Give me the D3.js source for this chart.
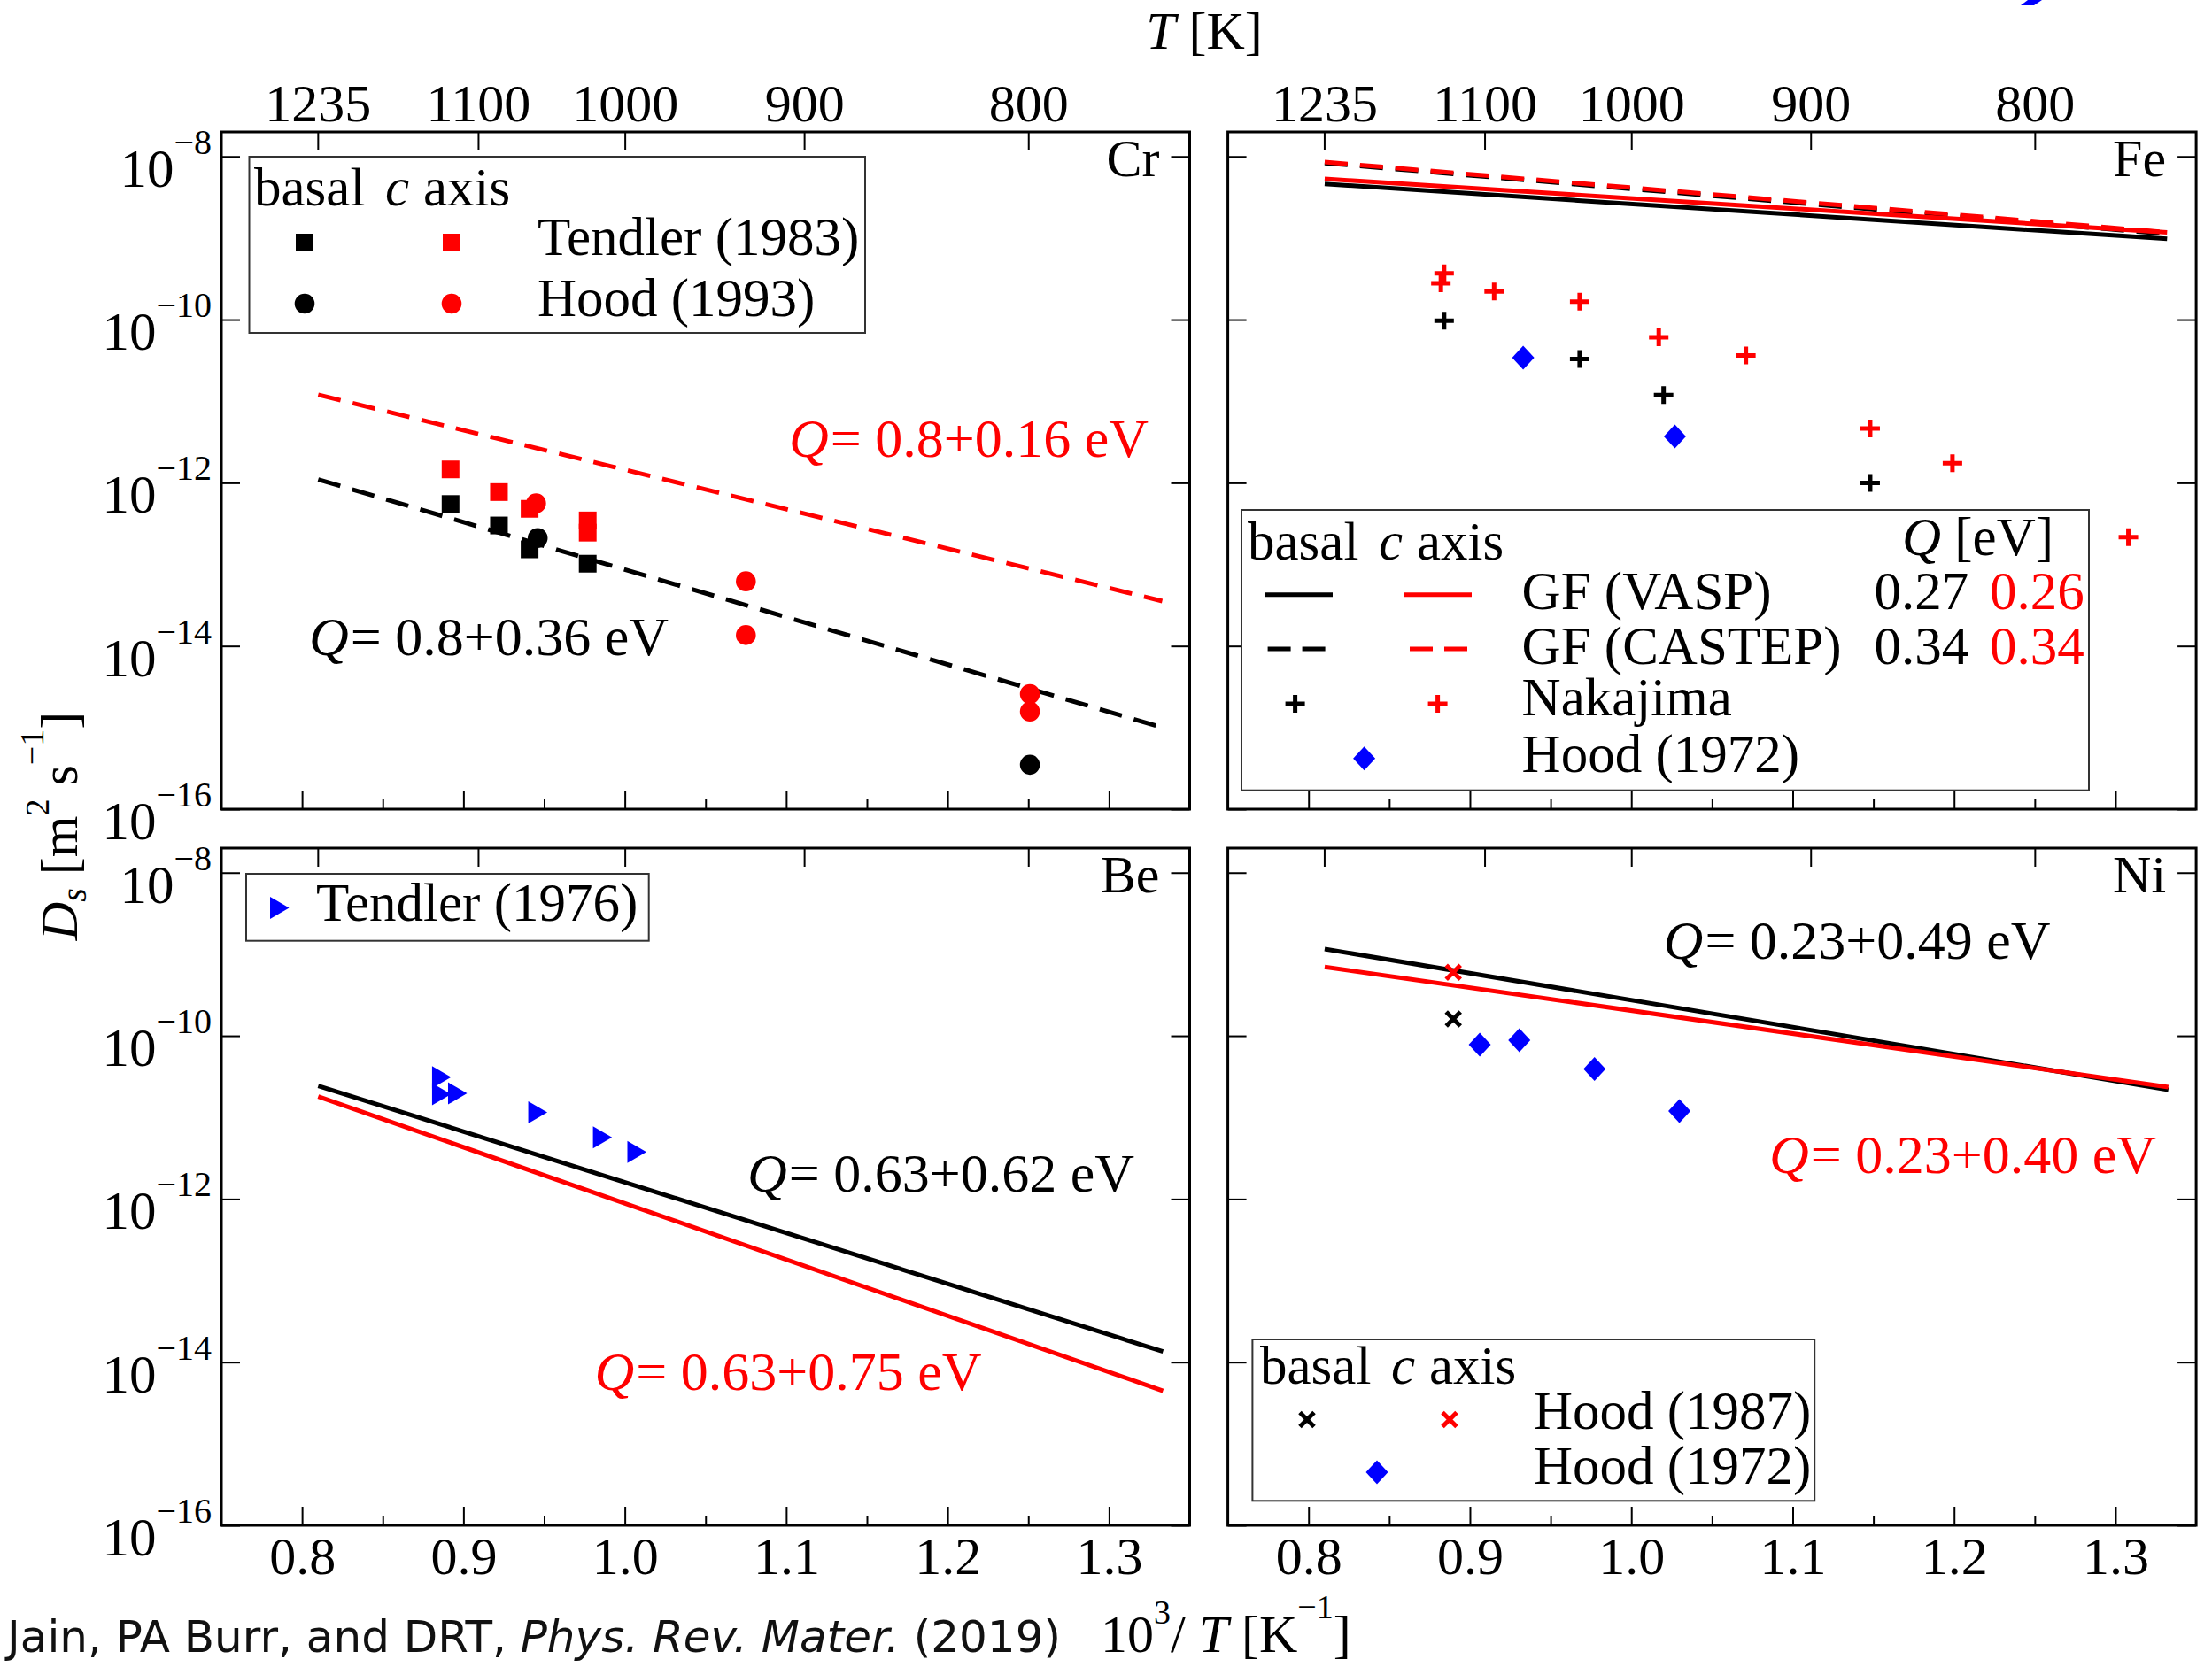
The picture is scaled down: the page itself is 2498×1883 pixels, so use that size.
<!DOCTYPE html>
<html>
<meta charset="utf-8">
<style>
  body { margin:0; padding:0; background:#fff; }
  svg { display:block; font-family:"Liberation Serif", "Times New Roman", serif; }
  .tick line { stroke:#000; stroke-width:2px; }
  .tick text { font-size:60px; fill:#000; font-family:"Liberation Serif", serif; }
  .domain { display:none; }
  .frame { fill:none; stroke:#000; stroke-width:3px; }
  .legbox { fill:#fff; stroke:#333; stroke-width:2px; }
</style>
<body>
<svg id="chart" width="2498" height="1883"></svg>
<script src="https://cdn.jsdelivr.net/npm/d3@7"></script>
<script>
// axis ticks
var xTicks = [0.8, 0.9, 1.0, 1.1, 1.2, 1.3];
var xMinorTicks = [0.85, 0.95, 1.05, 1.15, 1.25];
var tempTicks = [1235, 1100, 1000, 900, 800];
var yTicks = [1e-8, 1e-10, 1e-12, 1e-14, 1e-16];
var yTickExp = ["\u22128", "\u221210", "\u221212", "\u221214", "\u221216"];

// Cr  [10^3/T, D]
var crTendlerBasal = [[0.892, 5.5e-13], [0.922, 3.0e-13], [0.941, 1.53e-13], [0.977, 1.02e-13]];
var crTendlerC = [[0.892, 1.46e-12], [0.922, 7.7e-13], [0.941, 4.8e-13], [0.977, 3.46e-13], [0.977, 2.45e-13]];
var crHoodBasal = [[0.946, 2.1e-13], [1.251, 3.5e-16]];
var crHoodC = [[0.945, 5.6e-13], [1.075, 6.2e-14], [1.075, 1.36e-14], [1.251, 2.57e-15], [1.251, 1.57e-15]];
var crFitBasal = [[0.81, 1.1e-12], [1.333, 1.0e-15]];
var crFitC = [[0.81, 1.2e-11], [1.333, 3.55e-14]];

// Fe
var feVaspBasal = [[0.81, 4.61e-9], [1.332, 9.77e-10]];
var feVaspC = [[0.81, 5.31e-9], [1.332, 1.175e-9]];
var feCastepBasal = [[0.81, 8.3e-9], [1.332, 1.12e-9]];
var feCastepC = [[0.81, 8.53e-9], [1.332, 1.175e-9]];
var feNakajimaBasal = [[0.884, 9.7e-11], [0.968, 3.3e-11], [1.020, 1.19e-11], [1.148, 9.95e-13]];
var feNakajimaC = [[0.884, 3.7e-10], [0.882, 2.79e-10], [0.915, 2.22e-10], [0.968, 1.66e-10], [1.017, 6.07e-11],
                   [1.071, 3.65e-11], [1.148, 4.63e-12], [1.199, 1.74e-12], [1.308, 2.16e-13]];
var feHood = [[0.933, 3.42e-11], [1.027, 3.69e-12]];

// Be
var beTendler = [[0.8855, 3.11e-11], [0.8855, 1.92e-11], [0.8954, 1.97e-11], [0.9451, 1.15e-11], [0.9852, 5.71e-12], [1.0065, 3.76e-12]];
var beFitBasal = [[0.81, 2.44e-11], [1.3335, 1.35e-14]];
var beFitC = [[0.81, 1.8e-11], [1.3335, 4.45e-15]];

// Ni
var niFitBasal = [[0.81, 1.16e-9], [1.3328, 2.18e-11]];
var niFitC = [[0.81, 7.0e-10], [1.3328, 2.35e-11]];
var niHood87Basal = [[0.8897, 1.61e-10]];
var niHood87C = [[0.8897, 6.0e-10]];
var niHood72 = [[0.9061, 7.8e-11], [0.9306, 8.85e-11], [0.9772, 3.92e-11], [1.0298, 1.2e-11]];

var RED = "#ff0000", BLUE = "#0000ff", BLACK = "#000000";

var svg = d3.select("#chart");
var pw = 1093.5, ph = 765;

var symSquare = "M-10,-10H10V10H-10Z";
var symCircle = d3.symbol(d3.symbolCircle, 400)();
var symDiamond = "M0,-13.5L12.5,0L0,13.5L-12.5,0Z";
var symTriangle = "M-9,-12.5L12.5,0L-9,12.5Z";
var symPlus = "M-11,0H11M0,-10V10";
var symCross = "M-8,-8L8,8M-8,8L8,-8";

function makePanel(x0, y0, opts) {
	var g = svg.append("g").attr("transform", "translate(" + x0 + "," + y0 + ")");
	var x = d3.scaleLinear().domain([0.75, 1.35]).range([0, pw]);
	var y = d3.scaleLog().domain([1e-16, 2e-8]).range([ph, 0]);

	g.append("g").attr("transform", "translate(0," + ph + ")")
		.call(d3.axisBottom(x).tickValues(xTicks).tickSize(-21).tickPadding(12)
			.tickFormat(opts.bottomLabels ? d3.format(".1f") : ""));
	g.append("g").attr("transform", "translate(0," + ph + ")")
		.call(d3.axisBottom(x).tickValues(xMinorTicks).tickSize(-11).tickFormat(""));
	g.append("g")
		.call(d3.axisTop(x).tickValues(tempTicks.map(function(t) { return 1000 / t; }))
			.tickSize(-21).tickPadding(12)
			.tickFormat(function(d, i) { return opts.topLabels ? tempTicks[i] : ""; }));
	g.append("g").call(d3.axisLeft(y).tickValues(yTicks).tickSize(-21).tickFormat(""));
	g.append("g").attr("transform", "translate(" + pw + ",0)")
		.call(d3.axisRight(y).tickValues(yTicks).tickSize(-21).tickFormat(""));

	if (opts.leftLabels) {
		g.selectAll(".ylab").data(yTicks).enter().append("text")
			.attr("class", "ylab")
			.attr("x", -11)
			.attr("y", function(d) { return y(d) + 34; })
			.attr("text-anchor", "end")
			.style("font-size", "61px")
			.each(function(d, i) {
				var t = d3.select(this);
				t.append("tspan").text("10");
				t.append("tspan").attr("dy", -37).style("font-size", "40px").text(yTickExp[i]);
			});
	}

	g.append("rect").attr("class", "frame").attr("width", pw).attr("height", ph);

	g.append("text").attr("x", pw - 34).attr("y", 50).attr("text-anchor", "end")
		.style("font-size", "60px").text(opts.name);

	return {g: g, x: x, y: y};
}

function drawLine(p, pts, color, dashed) {
	var line = d3.line().x(function(d) { return p.x(d[0]); }).y(function(d) { return p.y(d[1]); });
	p.g.append("path").datum(pts).attr("d", line)
		.attr("fill", "none").attr("stroke", color).attr("stroke-width", 5)
		.attr("stroke-dasharray", dashed ? "26,14" : null);
}

function drawMarks(p, pts, shape, color, stroked) {
	p.g.selectAll(null).data(pts).enter().append("path")
		.attr("d", shape)
		.attr("transform", function(d) { return "translate(" + p.x(d[0]) + "," + p.y(d[1]) + ")"; })
		.attr("fill", stroked ? "none" : color)
		.attr("stroke", stroked ? color : null)
		.attr("stroke-width", stroked ? 5 : null);
}

function legMark(g, cx, cy, shape, color, stroked) {
	g.append("path").attr("d", shape).attr("transform", "translate(" + cx + "," + cy + ")")
		.attr("fill", stroked ? "none" : color)
		.attr("stroke", stroked ? color : null)
		.attr("stroke-width", stroked ? 5 : null);
}

function label(g, x, y, txt, color) {
	return g.append("text").attr("x", x).attr("y", y).attr("fill", color || BLACK)
		.style("font-size", "61px").text(txt);
}

// italic Q and the rest as two separate texts
function qLabel(g, x, y, txt, color) {
	var q = g.append("text").attr("x", x).attr("y", y).attr("fill", color)
		.style("font-size", "62px").style("font-style", "italic").text("Q");
	var w = q.node().getComputedTextLength();
	g.append("text").attr("x", x + w + 2).attr("y", y).attr("fill", color)
		.style("font-size", "62px").text("= " + txt);
}

function headerRow(g, x, y) {
	var t = g.append("text").attr("x", x).attr("y", y).style("font-size", "61px");
	t.append("tspan").text("basal");
	t.append("tspan").attr("x", x + 148).style("font-style", "italic").text("c");
	t.append("tspan").attr("x", x + 191).text("axis");
}

// ---------- Cr ----------
var cr = makePanel(250, 149, {name: "Cr", topLabels: true, leftLabels: true});
drawLine(cr, crFitC, RED, true);
drawLine(cr, crFitBasal, BLACK, true);
drawMarks(cr, crTendlerBasal, symSquare, BLACK);
drawMarks(cr, crTendlerC, symSquare, RED);
drawMarks(cr, crHoodBasal, symCircle, BLACK);
drawMarks(cr, crHoodC, symCircle, RED);
qLabel(cr.g, 641, 367, "0.8+0.16 eV", RED);
qLabel(cr.g, 99, 591, "0.8+0.36 eV", BLACK);
cr.g.append("rect").attr("class", "legbox").attr("x", 31.5).attr("y", 28).attr("width", 695.5).attr("height", 199);
headerRow(cr.g, 37, 83);
legMark(cr.g, 94, 125, symSquare, BLACK);
legMark(cr.g, 260, 125, symSquare, RED);
label(cr.g, 357, 139, "Tendler (1983)");
legMark(cr.g, 94, 194, symCircle, BLACK);
legMark(cr.g, 260, 194, symCircle, RED);
label(cr.g, 357, 208, "Hood (1993)");

// ---------- Fe ----------
var fe = makePanel(1386.6, 149, {name: "Fe", topLabels: true});
drawLine(fe, feCastepBasal, BLACK, true);
drawLine(fe, feCastepC, RED, true);
drawLine(fe, feVaspBasal, BLACK, false);
drawLine(fe, feVaspC, RED, false);
drawMarks(fe, feNakajimaBasal, symPlus, BLACK, true);
drawMarks(fe, feNakajimaC, symPlus, RED, true);
drawMarks(fe, feHood, symDiamond, BLUE);
fe.g.append("rect").attr("class", "legbox").attr("x", 15.4).attr("y", 427).attr("width", 957).attr("height", 316.7);
headerRow(fe.g, 22.4, 482.7);
var qh = fe.g.append("text").attr("x", 761.4).attr("y", 478).style("font-size", "61px");
qh.append("tspan").style("font-style", "italic").text("Q");
qh.append("tspan").text(" [eV]");
fe.g.append("line").attr("x1", 41.4).attr("x2", 118.4).attr("y1", 522.7).attr("y2", 522.7).attr("stroke", BLACK).attr("stroke-width", 5);
fe.g.append("line").attr("x1", 198.4).attr("x2", 275.4).attr("y1", 522.7).attr("y2", 522.7).attr("stroke", RED).attr("stroke-width", 5);
fe.g.append("line").attr("x1", 45).attr("x2", 110).attr("y1", 584).attr("y2", 584).attr("stroke", BLACK).attr("stroke-width", 5).attr("stroke-dasharray", "26,13");
fe.g.append("line").attr("x1", 205.4).attr("x2", 270.4).attr("y1", 584).attr("y2", 584).attr("stroke", RED).attr("stroke-width", 5).attr("stroke-dasharray", "26,13");
legMark(fe.g, 76, 646, symPlus, BLACK, true);
legMark(fe.g, 237, 646, symPlus, RED, true);
legMark(fe.g, 154, 707.7, symDiamond, BLUE);
label(fe.g, 332, 539, "GF (VASP)");
label(fe.g, 332, 601, "GF (CASTEP)");
label(fe.g, 332, 659, "Nakajima");
label(fe.g, 332, 723, "Hood (1972)");
label(fe.g, 730, 539, "0.27");
label(fe.g, 860.4, 539, "0.26", RED);
label(fe.g, 730, 601, "0.34");
label(fe.g, 860.4, 601, "0.34", RED);

// ---------- Be ----------
var be = makePanel(250, 958, {name: "Be", bottomLabels: true, leftLabels: true});
drawLine(be, beFitC, RED, false);
drawLine(be, beFitBasal, BLACK, false);
drawMarks(be, beTendler, symTriangle, BLUE);
qLabel(be.g, 594, 388, "0.63+0.62 eV", BLACK);
qLabel(be.g, 421.5, 612, "0.63+0.75 eV", RED);
be.g.append("rect").attr("class", "legbox").attr("x", 28).attr("y", 29).attr("width", 454.7).attr("height", 75.7);
legMark(be.g, 64, 67.4, symTriangle, BLUE);
label(be.g, 107, 81.7, "Tendler (1976)");

// ---------- Ni ----------
var ni = makePanel(1386.6, 958, {name: "Ni", bottomLabels: true});
drawLine(ni, niFitBasal, BLACK, false);
drawLine(ni, niFitC, RED, false);
drawMarks(ni, niHood87Basal, symCross, BLACK, true);
drawMarks(ni, niHood87C, symCross, RED, true);
drawMarks(ni, niHood72, symDiamond, BLUE);
qLabel(ni.g, 492, 125, "0.23+0.49 eV", BLACK);
qLabel(ni.g, 611.4, 367, "0.23+0.40 eV", RED);
ni.g.append("rect").attr("class", "legbox").attr("x", 27.8).attr("y", 555).attr("width", 634.8).attr("height", 182.3);
headerRow(ni.g, 36.4, 605);
legMark(ni.g, 89.4, 645.5, symCross, BLACK, true);
legMark(ni.g, 250.4, 645.5, symCross, RED, true);
label(ni.g, 345.4, 656, "Hood (1987)");
legMark(ni.g, 168.4, 705, symDiamond, BLUE);
label(ni.g, 345.4, 718, "Hood (1972)");

// ---------- titles ----------
var tt = svg.append("text").attr("x", 1360).attr("y", 55).attr("text-anchor", "middle").style("font-size", "60px");
tt.append("tspan").style("font-style", "italic").text("T");
tt.append("tspan").text(" [K]");

var bt = svg.append("text").attr("x", 1243).attr("y", 1866).style("font-size", "60px");
bt.append("tspan").text("10");
bt.append("tspan").attr("dy", -32).style("font-size", "38px").text("3");
bt.append("tspan").attr("dy", 32).text("/ ");
bt.append("tspan").style("font-style", "italic").text("T");
bt.append("tspan").text(" [K");
bt.append("tspan").attr("dy", -38).style("font-size", "38px").text("\u22121");
bt.append("tspan").attr("dy", 38).text("]");

var yt = svg.append("text").attr("transform", "translate(87,933) rotate(-90)").attr("text-anchor", "middle").style("font-size", "60px");
yt.append("tspan").style("font-style", "italic").text("D");
yt.append("tspan").attr("dy", 10).style("font-style", "italic").style("font-size", "40px").text("s");
yt.append("tspan").attr("dy", -10).text(" [m");
yt.append("tspan").attr("dy", -32).style("font-size", "38px").text("2");
yt.append("tspan").attr("dy", 32).text(" s");
yt.append("tspan").attr("dy", -38).style("font-size", "38px").text("\u22121");
yt.append("tspan").attr("dy", 38).text("]");

var cite = svg.append("text").attr("x", 8).attr("y", 1866).style("font-family", "'DejaVu Sans', Verdana, sans-serif").style("font-size", "50px").attr("fill", "#111");
cite.append("tspan").text("Jain, PA Burr, and DRT, ");
cite.append("tspan").style("font-style", "italic").text("Phys. Rev. Mater.");
cite.append("tspan").text(" (2019)");

svg.append("path").attr("d", "M2290,0L2306,0L2297,6L2282,6Z").attr("fill", BLUE);
</script>
</body>
</html>
